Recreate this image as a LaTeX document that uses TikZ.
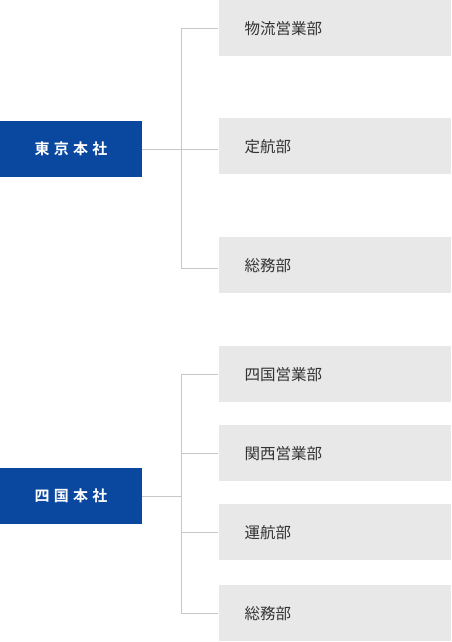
\documentclass[tikz,border=0pt]{standalone}
\usepackage{fontspec}
\setmainfont{Noto Sans CJK JP}
\newfontfamily\jpbold{Noto Sans CJK JP Bold}
\definecolor{hqblue}{HTML}{0A48A0}
\definecolor{deptgray}{HTML}{E8E8E8}
\definecolor{linegray}{HTML}{C8C8C8}
\definecolor{txt}{HTML}{333333}
\begin{document}
\begin{tikzpicture}[x=1pt,y=-1pt,
  hq/.style={rectangle, fill=hqblue, text=white, minimum width=141.5pt, minimum height=56pt, inner sep=0pt, font=\jpbold\fontsize{15pt}{17pt}\selectfont, anchor=north west},
  dept/.style={rectangle, fill=deptgray, text=txt, minimum height=56pt, inner xsep=26pt, inner ysep=0pt, text width=180.7pt, align=left, font=\fontsize{15.5pt}{18pt}\selectfont, anchor=north west},
  conn/.style={draw=linegray, line width=1pt}
]
\useasboundingbox (0,0) rectangle (451,642);
% Tokyo group
\node[hq] (tk) at (0,121) {東\kern4.3pt 京\kern4.3pt 本\kern4.3pt 社};
\node[dept] (t1) at (218.3,0) {物流営業部};
\node[dept] (t2) at (218.3,118) {定航部};
\node[dept] (t3) at (218.3,237) {総務部};
\coordinate (tx) at (181.7,0);
\coordinate (t3c) at ([yshift=-3pt]t3.west);
\draw[conn] (tk.east) -- (tk.east -| t2.west);
\draw[conn] (tx |- t1.west) -- (tx |- t3c) -- (t3c);
\draw[conn] (tx |- t1.west) -- (t1.west);
% Shikoku group
\node[hq] (sk) at (0,468) {四\kern4.3pt 国\kern4.3pt 本\kern4.3pt 社};
\node[dept] (s1) at (218.3,346) {四国営業部};
\node[dept] (s2) at (218.3,425) {関西営業部};
\node[dept] (s3) at (218.3,504) {運航部};
\node[dept] (s4) at (218.3,585) {総務部};
\coordinate (sx) at (181.7,0);
\draw[conn] (sk.east) -- (sk.east -| sx);
\draw[conn] (sx |- s1.west) -- (sx |- s4.west) -- (s4.west);
\draw[conn] (sx |- s1.west) -- (s1.west);
\draw[conn] (sx |- s2.west) -- (s2.west);
\draw[conn] (sx |- s3.west) -- (s3.west);
\end{tikzpicture}
\end{document}
